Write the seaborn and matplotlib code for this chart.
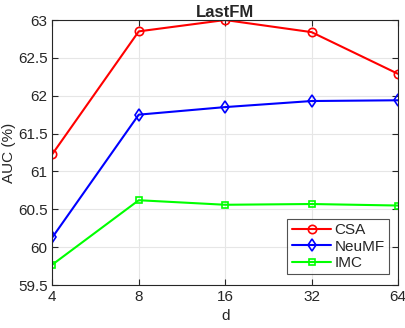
import matplotlib
matplotlib.use("Agg")
import matplotlib.pyplot as plt
import seaborn as sns
import pandas as pd

d_values = [4, 8, 16, 32, 64]
csa = [61.23, 62.85, 63.00, 62.84, 62.29]
neumf = [60.13, 61.75, 61.85, 61.93, 61.94]
imc = [59.77, 60.62, 60.56, 60.57, 60.55]
series_names = ["CSA", "NeuMF", "IMC"]
colors = ["#ff0000", "#0000ff", "#00ff00"]
markers = ["o", "d", "s"]

sns.set_style("white")
plt.rcParams['font.family'] = ['Liberation Sans', 'DejaVu Sans']

rows = []
for name, vals in zip(series_names, [csa, neumf, imc]):
    for i, v in enumerate(vals):
        rows.append({"pos": i, "AUC": v, "method": name})
df = pd.DataFrame(rows)

fig = plt.figure(figsize=(4.06, 3.28), dpi=100)
ax = fig.add_axes([0.129, 0.131, 0.851, 0.808])

for name, c, m in zip(series_names, colors, markers):
    sub = df[df.method == name]
    sns.lineplot(data=sub, x="pos", y="AUC", ax=ax, color=c, marker=m,
                 markersize=6 if m != "s" else 5, markerfacecolor="none",
                 markeredgecolor=c, markeredgewidth=1.2, linewidth=1.5,
                 label=name)

ax.set_xlim(0, 4)
ax.set_ylim(59.5, 63)
ax.set_xticks(range(5))
ax.set_xticklabels([str(v) for v in d_values])
ax.set_yticks([59.5, 60, 60.5, 61, 61.5, 62, 62.5, 63])
ax.set_yticklabels(["59.5", "60", "60.5", "61", "61.5", "62", "62.5", "63"])
ax.grid(True, color="#e6e6e6", linewidth=0.8)
ax.set_axisbelow(True)
for s in ax.spines.values():
    s.set_color("#262626")
    s.set_linewidth(0.8)
    s.set_visible(True)
ax.tick_params(direction="in", length=4, colors="#262626", labelsize=11,
               top=True, right=True, bottom=True, left=True)
ax.set_xlabel("d", fontsize=11, color="#262626")
ax.set_ylabel("AUC (%)", fontsize=11, color="#262626")
ax.yaxis.set_label_coords(-0.105, 0.5)
ax.set_title("LastFM", fontsize=12, fontweight="bold", pad=2)

leg = ax.legend(loc="lower right", bbox_to_anchor=(0.975, 0.04), fontsize=11,
                frameon=True, fancybox=False, edgecolor="#262626",
                handlelength=2.6, handletextpad=0.2, borderpad=0.3,
                labelspacing=0.15, borderaxespad=0)
leg.get_frame().set_linewidth(0.8)

fig.savefig("out.png", dpi=100)
